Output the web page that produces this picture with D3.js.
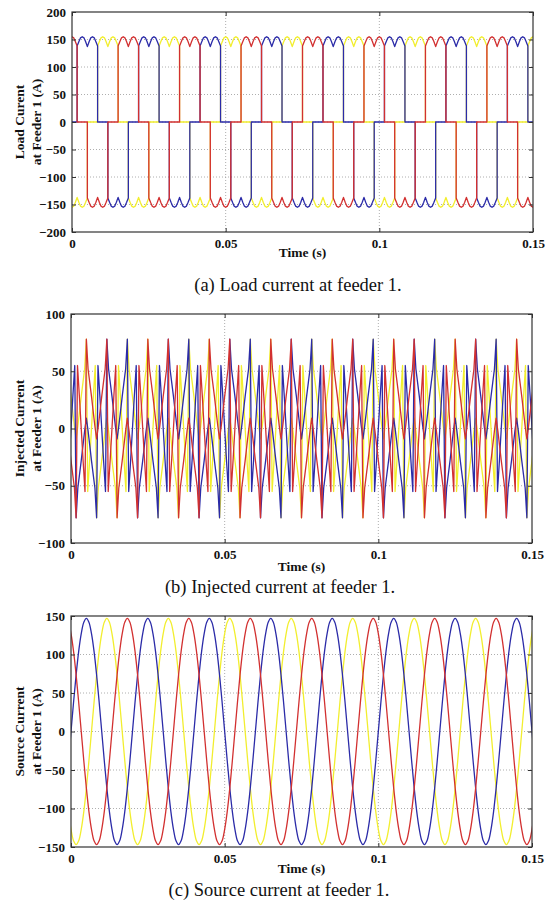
<!DOCTYPE html>
<html>
<head>
<meta charset="utf-8">
<script src="https://cdn.jsdelivr.net/npm/d3@7"></script>
<style>
  body { margin: 0; background: #fff; }
  text { font-family: "Liberation Serif", "Times New Roman", serif; }
</style>
</head>
<body>
<script>
var period = 0.02;
var timeRange = [0, 0.15];
var timeTicks = [0, 0.05, 0.1, 0.15];
var timeTickLabels = ["0", "0.05", "0.1", "0.15"];

// three phases, lead angle in degrees relative to phase A
var phases = ["Phase B", "Phase A", "Phase C"];
var phaseLead = [-120, 0, 120];

// one cycle of each waveform: [angle deg, amps]
var loadCycle = [
  [0, 0], [30, 0], [30, 138], [40, 146], [50, 153], [60, 155], [70, 153], [80, 146],
  [90, 137], [100, 146], [110, 153], [120, 155], [130, 153], [140, 146], [150, 138], [150, 0],
  [210, 0], [210, -138], [220, -146], [230, -153], [240, -155], [250, -153], [260, -146],
  [270, -137], [280, -146], [290, -153], [300, -155], [310, -153], [320, -146], [330, -138],
  [330, 0], [360, 0]
];
var injectedCycle = [
  [0, 0], [10, 26], [20, 50], [22, 55], [30, -78], [40, -52], [50, -40], [60, -28],
  [70, -15], [80, -2], [90, 9], [100, -2], [110, -15], [120, -28], [130, -40], [140, -52],
  [150, -78], [158, 55], [170, 26], [180, 0], [190, -26], [202, -55], [210, 78], [220, 52],
  [230, 40], [240, 28], [250, 15], [260, 2], [270, -9], [280, 2], [290, 15], [300, 28],
  [310, 40], [320, 52], [330, 78], [338, -55], [350, -26], [360, 0]
];
var sourceCycle = [
  [0, 0], [15, 38], [30, 73.5], [45, 104], [60, 127], [75, 142], [90, 147], [105, 142],
  [120, 127], [135, 104], [150, 73.5], [165, 38], [180, 0], [195, -38], [210, -73.5],
  [225, -104], [240, -127], [255, -142], [270, -147], [285, -142], [300, -127], [315, -104],
  [330, -73.5], [345, -38], [360, 0]
];

var loadTicks = [-200, -150, -100, -50, 0, 50, 100, 150, 200];
var injectedTicks = [-100, -50, 0, 50, 100];
var sourceTicks = [-150, -100, -50, 0, 50, 100, 150];

var yLabels = [
  ["Load Curent", "at Feeder 1 (A)"],
  ["Injected Current", "at Feeder 1 (A)"],
  ["Source Current", "at Feeder 1 (A)"]
];
var xLabel = "Time (s)";
var captions = [
  "(a) Load current at feeder 1.",
  "(b) Injected current at feeder 1.",
  "(c) Source current at feeder 1."
];

var colors = { "Phase A": "#2b2ba8", "Phase B": "#f2ee2e", "Phase C": "#d23030" };

var svg = d3.select("body").append("svg")
  .attr("width", 553)
  .attr("height", 901);

var panels = [
  { left: 72, right: 533, top: 12, bottom: 232, ticks: loadTicks, cycle: loadCycle,
    curve: d3.curveLinear, label: yLabels[0], caption: captions[0], capX: 298, capY: 291, timeY: 257 },
  { left: 71, right: 532, top: 314, bottom: 543, ticks: injectedTicks, cycle: injectedCycle,
    curve: d3.curveLinear, label: yLabels[1], caption: captions[1], capX: 280, capY: 593, timeY: 571 },
  { left: 71, right: 532, top: 616, bottom: 847, ticks: sourceTicks, cycle: sourceCycle,
    curve: d3.curveCatmullRom, label: yLabels[2], caption: captions[2], capX: 279, capY: 896, timeY: 873 }
];

// repeat one read-off cycle over the time window for a given phase lead
function tile(cycle, lead) {
  var pts = [];
  for (var k = -2; k <= 9; k++) {
    cycle.forEach(function(d) {
      var t = (d[0] - lead + 360 * k) / 360 * period;
      var last = pts[pts.length - 1];
      if (last && last[0] === t && last[1] === d[1]) return;
      pts.push([t, d[1]]);
    });
  }
  return pts.filter(function(p) { return p[0] >= -period && p[0] <= timeRange[1] + period; });
}

panels.forEach(function(p, i) {
  var x = d3.scaleLinear().domain(timeRange).range([p.left, p.right]);
  var y = d3.scaleLinear().domain(d3.extent(p.ticks)).range([p.bottom, p.top]);
  var g = svg.append("g");

  // dotted grid
  g.selectAll(".gy").data(p.ticks.slice(1, -1)).enter().append("line")
    .attr("x1", p.left).attr("x2", p.right)
    .attr("y1", function(d) { return y(d); }).attr("y2", function(d) { return y(d); })
    .attr("stroke", "#999").attr("stroke-width", 0.8).attr("stroke-dasharray", "1,2");
  g.selectAll(".gx").data(timeTicks.slice(1, -1)).enter().append("line")
    .attr("y1", p.top).attr("y2", p.bottom)
    .attr("x1", function(d) { return x(d); }).attr("x2", function(d) { return x(d); })
    .attr("stroke", "#999").attr("stroke-width", 0.8).attr("stroke-dasharray", "1,2");

  // waveforms
  var clipId = "clip" + i;
  svg.append("clipPath").attr("id", clipId).append("rect")
    .attr("x", p.left).attr("y", p.top - 1)
    .attr("width", p.right - p.left).attr("height", p.bottom - p.top + 2);

  var line = d3.line()
    .x(function(d) { return x(d[0]); })
    .y(function(d) { return y(d[1]); })
    .curve(p.curve);

  g.append("g").attr("clip-path", "url(#" + clipId + ")")
    .selectAll("path").data(phases).enter().append("path")
    .attr("d", function(ph, j) { return line(tile(p.cycle, phaseLead[j])); })
    .attr("fill", "none")
    .attr("stroke", function(ph) { return colors[ph]; })
    .attr("stroke-width", 1.3)
    .attr("stroke-linejoin", "round");

  // axes: bottom/left with labels, top/right ticks only, all ticks inward
  var axB = d3.axisBottom(x).tickValues(timeTicks).tickFormat(function(d, k) { return timeTickLabels[k]; })
    .tickSizeInner(-4).tickSizeOuter(0).tickPadding(7);
  var axL = d3.axisLeft(y).tickValues(p.ticks).tickFormat(d3.format("d"))
    .tickSizeInner(-4).tickSizeOuter(0).tickPadding(6);
  var axT = d3.axisTop(x).tickValues(timeTicks).tickFormat("").tickSizeInner(-4).tickSizeOuter(0);
  var axR = d3.axisRight(y).tickValues(p.ticks).tickFormat("").tickSizeInner(-4).tickSizeOuter(0);

  [[axB, "translate(0," + p.bottom + ")"], [axL, "translate(" + p.left + ",0)"],
   [axT, "translate(0," + p.top + ")"], [axR, "translate(" + p.right + ",0)"]].forEach(function(a) {
    var ag = g.append("g").attr("transform", a[1]).call(a[0]);
    ag.select(".domain").remove();
    ag.selectAll("line").attr("stroke", "#333");
    ag.selectAll("text").attr("fill", "#111").style("font-size", "13px").style("font-weight", "bold")
      .style("font-family", "'Liberation Serif', 'Times New Roman', serif");
  });

  g.append("rect")
    .attr("x", p.left).attr("y", p.top)
    .attr("width", p.right - p.left).attr("height", p.bottom - p.top)
    .attr("fill", "none").attr("stroke", "#333").attr("stroke-width", 1.2);

  // y label, two lines
  var cy = (p.top + p.bottom) / 2;
  [24, 41].forEach(function(bx, k) {
    g.append("text")
      .attr("transform", "translate(" + bx + "," + cy + ") rotate(-90)")
      .attr("text-anchor", "middle")
      .style("font-size", "13.5px").style("font-weight", "bold").attr("fill", "#111")
      .text(p.label[k]);
  });

  g.append("text")
    .attr("x", (p.left + p.right) / 2).attr("y", p.timeY)
    .attr("text-anchor", "middle")
    .style("font-size", "13.5px").style("font-weight", "bold").attr("fill", "#111")
    .text(xLabel);

  g.append("text")
    .attr("x", p.capX).attr("y", p.capY)
    .attr("text-anchor", "middle")
    .style("font-size", "18.5px").attr("fill", "#111")
    .text(p.caption);
});
</script>
</body>
</html>
